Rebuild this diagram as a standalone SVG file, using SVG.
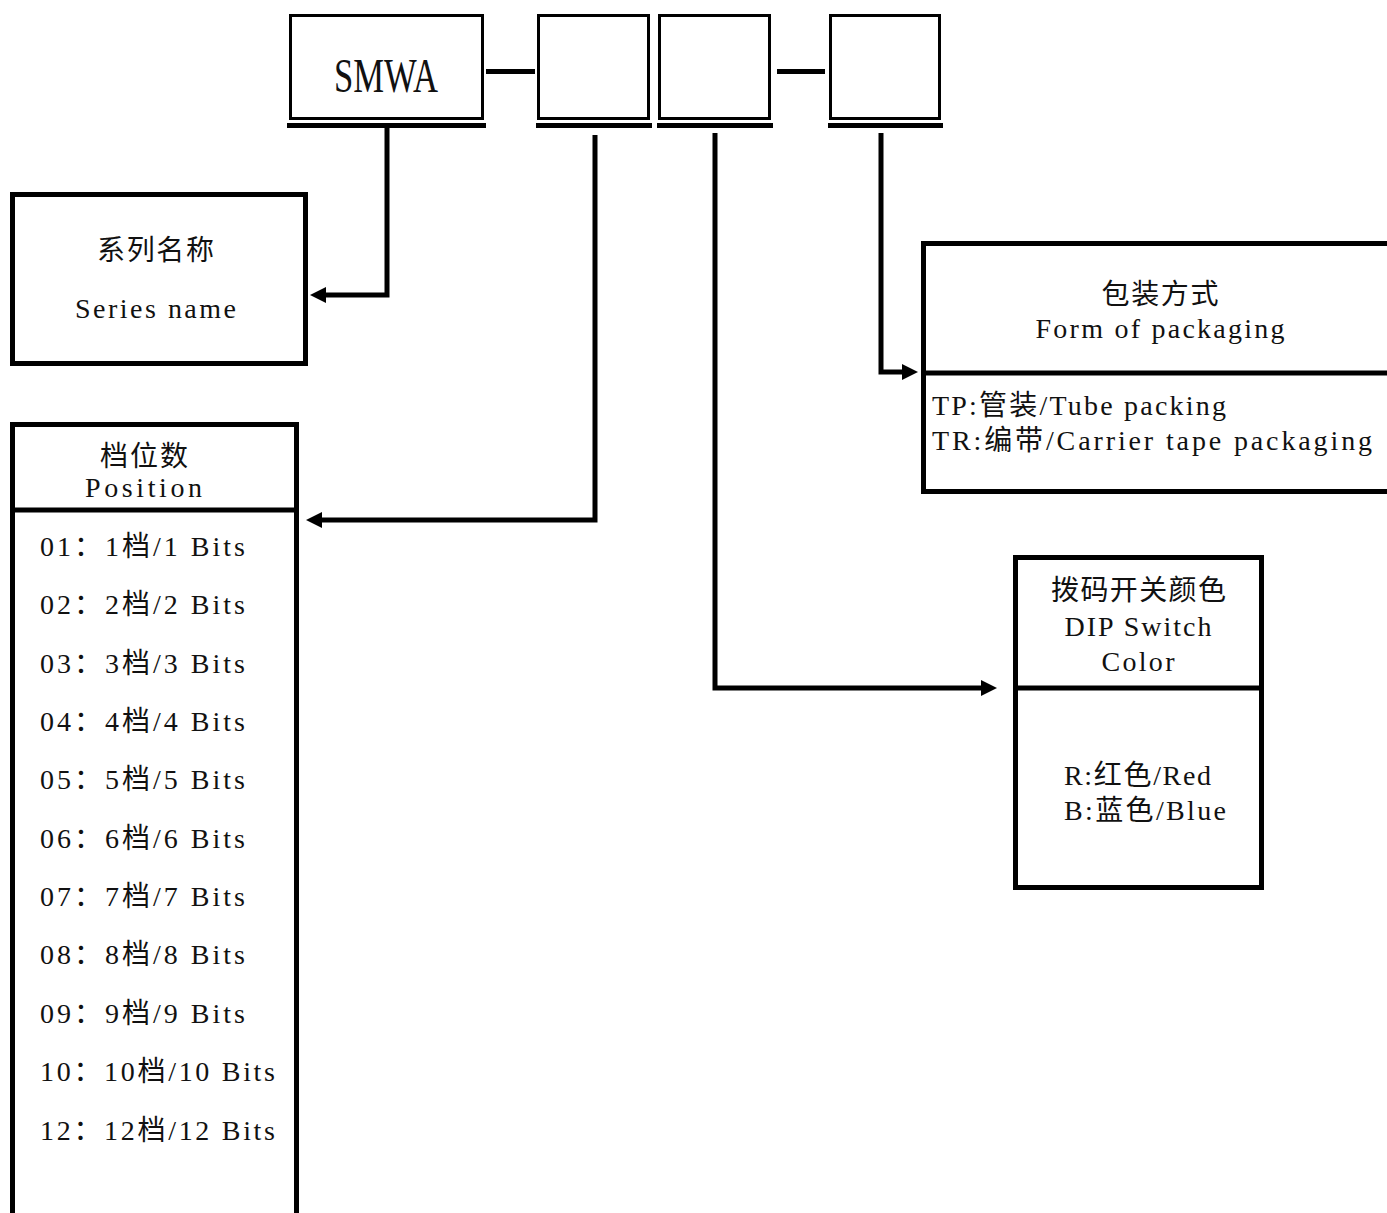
<svg xmlns="http://www.w3.org/2000/svg" width="1387" height="1213" viewBox="0 0 1387 1213">
<style>
.bx{fill:#fff;stroke:#000;stroke-width:5}
.tb{fill:#fff;stroke:#000;stroke-width:3}
.bar{fill:#000}
.div{stroke:#000;stroke-width:5}
.con{fill:none;stroke:#000;stroke-width:5;stroke-linejoin:miter}
.t{font-family:"Liberation Serif","Noto Sans CJK SC",serif;font-size:28px;fill:#111}
.big{font-size:48px}
.c{text-anchor:middle}
</style>
<defs>
<marker id="ah" markerUnits="userSpaceOnUse" markerWidth="20" markerHeight="20" refX="0" refY="8" orient="auto" overflow="visible">
<path d="M0,0 L16,8 L0,16 Z" fill="#000"/>
</marker>
</defs>
<rect width="1387" height="1213" fill="#fff"/>

<g id="code">
<g id="box-smwa">
<rect class="tb" x="290.5" y="15.5" width="192" height="103"/>
<rect class="bar" x="287" y="123" width="199" height="5"/>
<text class="t big c" x="386" y="92" textLength="104" lengthAdjust="spacingAndGlyphs">SMWA</text>
</g>
<rect class="bar" x="486" y="69" width="49" height="5"/>
<g id="box-2">
<rect class="tb" x="538.5" y="15.5" width="110" height="103"/>
<rect class="bar" x="536" y="123" width="116" height="5"/>
</g>
<g id="box-3">
<rect class="tb" x="659.5" y="15.5" width="110" height="103"/>
<rect class="bar" x="657" y="123" width="116" height="5"/>
</g>
<rect class="bar" x="777" y="69" width="48" height="5"/>
<g id="box-4">
<rect class="tb" x="830.5" y="15.5" width="109" height="103"/>
<rect class="bar" x="828" y="123" width="115" height="5"/>
</g>
</g>

<g id="connectors">
<path class="con" d="M387,128 V295 H326" marker-end="url(#ah)"/>
<path class="con" d="M595,135 V520 H322" marker-end="url(#ah)"/>
<path class="con" d="M715,133 V688 H981" marker-end="url(#ah)"/>
<path class="con" d="M881,133 V372 H902" marker-end="url(#ah)"/>
</g>

<g id="series-name">
<rect class="bx" x="12.5" y="194.5" width="293" height="169"/>
<text class="t c" x="155.5" y="260" textLength="117">系列名称</text>
<text class="t c" x="155.5" y="318" textLength="161">Series name</text>
</g>

<g id="position">
<rect class="bx" x="12.5" y="424.5" width="284" height="800"/>
<line class="div" x1="12" y1="510" x2="297" y2="510"/>
<text class="t c" x="144" y="466" textLength="88">档位数</text>
<text class="t c" x="143.5" y="497" textLength="117">Position</text>
<text class="t" x="40" y="556" textLength="205">01：1档/1 Bits</text>
<text class="t" x="40" y="614" textLength="205">02：2档/2 Bits</text>
<text class="t" x="40" y="673" textLength="205">03：3档/3 Bits</text>
<text class="t" x="40" y="731" textLength="205">04：4档/4 Bits</text>
<text class="t" x="40" y="789" textLength="205">05：5档/5 Bits</text>
<text class="t" x="40" y="848" textLength="205">06：6档/6 Bits</text>
<text class="t" x="40" y="906" textLength="205">07：7档/7 Bits</text>
<text class="t" x="40" y="964" textLength="205">08：8档/8 Bits</text>
<text class="t" x="40" y="1023" textLength="205">09：9档/9 Bits</text>
<text class="t" x="40" y="1081" textLength="235">10：10档/10 Bits</text>
<text class="t" x="40" y="1140" textLength="235">12：12档/12 Bits</text>
</g>

<g id="packaging">
<rect class="bx" x="923.5" y="243.5" width="480" height="248"/>
<line class="div" x1="923" y1="373" x2="1390" y2="373"/>
<text class="t c" x="1160" y="304" textLength="117">包装方式</text>
<text class="t c" x="1160" y="338" textLength="249">Form of packaging</text>
<text class="t" x="932" y="415" textLength="294">TP:管装/Tube packing</text>
<text class="t" x="932" y="450" textLength="440">TR:编带/Carrier tape packaging</text>
</g>

<g id="dip-color">
<rect class="bx" x="1015.5" y="557.5" width="246" height="330"/>
<line class="div" x1="1015" y1="688" x2="1262" y2="688"/>
<text class="t c" x="1138.5" y="600" textLength="175">拨码开关颜色</text>
<text class="t c" x="1138" y="636" textLength="147">DIP Switch</text>
<text class="t c" x="1138" y="671" textLength="73">Color</text>
<text class="t" x="1064" y="785" textLength="147">R:红色/Red</text>
<text class="t" x="1064" y="820" textLength="162">B:蓝色/Blue</text>
</g>
</svg>
